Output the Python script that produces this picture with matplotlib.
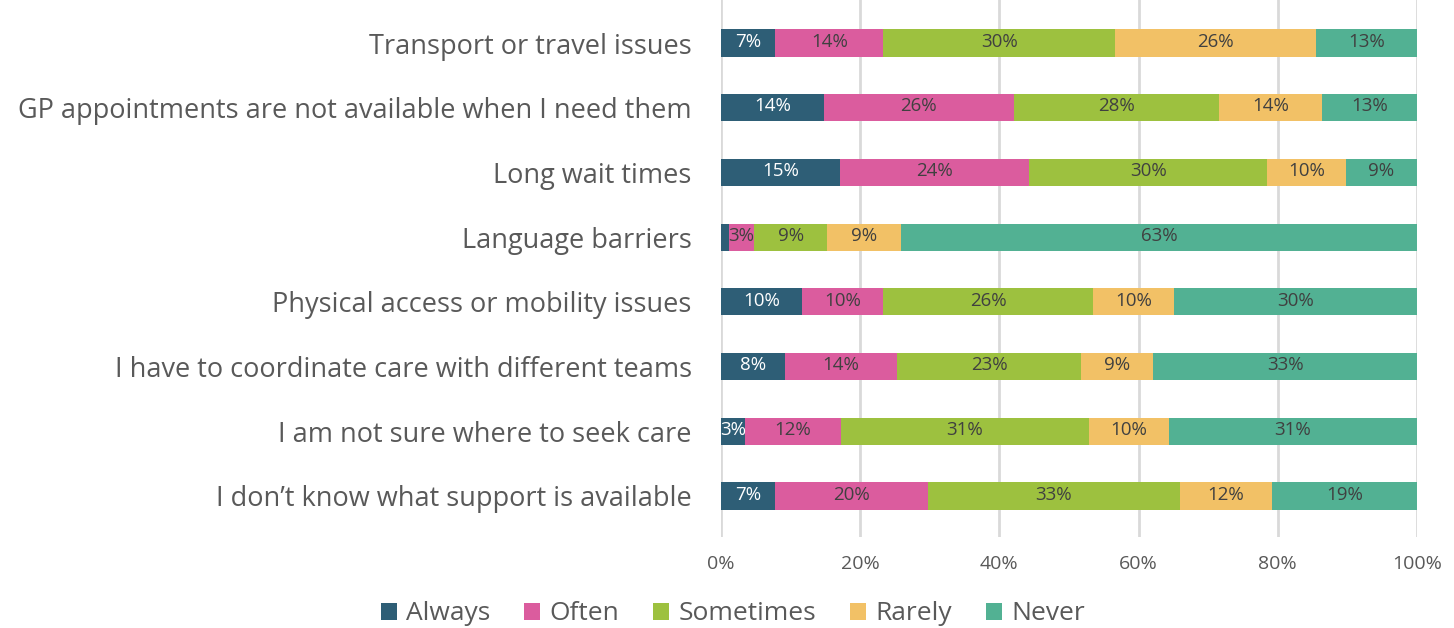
import matplotlib.pyplot as plt
import numpy as np

categories = [
    "Transport or travel issues",
    "GP appointments are not available when I need them",
    "Long wait times",
    "Language barriers",
    "Physical access or mobility issues",
    "I have to coordinate care with different teams",
    "I am not sure where to seek care",
    "I don\u2019t know what support is available",
]
series_names = ["Always", "Often", "Sometimes", "Rarely", "Never"]
always = [7, 14, 15, 1, 10, 8, 3, 7]
often = [14, 26, 24, 3, 10, 14, 12, 20]
sometimes = [30, 28, 30, 9, 26, 23, 31, 33]
rarely = [26, 14, 10, 9, 10, 9, 10, 12]
never = [13, 13, 9, 63, 30, 33, 31, 19]
x_ticks = [0, 20, 40, 60, 80, 100]

colors = ["#2E5E76", "#DB5C9E", "#9DC13F", "#F2C166", "#52B193"]
text_colors = ["white", "#404040", "#404040", "#404040", "#404040"]

plt.rcParams['font.family'] = ['Open Sans', 'DejaVu Sans']

fig = plt.figure(figsize=(14.54, 6.28), dpi=100)
ax = fig.add_axes([721 / 1454, 1 - 537 / 628, 696 / 1454, 537 / 628])

data = np.array([always, often, sometimes, rarely, never], dtype=float)
totals = data.sum(axis=0)
shares = data / totals * 100
y = np.arange(len(categories))

left = np.zeros(len(categories))
for i, name in enumerate(series_names):
    bars = ax.barh(y, shares[i], left=left, height=0.42, color=colors[i],
                   label=name, zorder=3)
    for j, b in enumerate(bars):
        v = data[i, j]
        if v < 2:
            continue
        ax.text(left[j] + shares[i, j] / 2, y[j] - 0.02, f"{int(v)}%",
                ha="center", va="center", fontsize=13.5,
                color=text_colors[i], zorder=4)
    left += shares[i]

ax.set_ylim(7.634, -0.665)
ax.set_xlim(0, 100)
ax.set_yticks(y)
ax.set_yticklabels(categories, fontsize=19.5, color="#595959")
ax.set_xticks(x_ticks)
ax.set_xticklabels([f"{t}%" for t in x_ticks], fontsize=14, color="#595959")
ax.tick_params(axis="y", length=0, pad=21)
ax.tick_params(axis="x", length=0, pad=13)
for s in ax.spines.values():
    s.set_visible(False)
ax.xaxis.grid(True, color="#D9D9D9", linewidth=2, zorder=0)
ax.set_axisbelow(True)

fig.legend(loc="center", bbox_to_anchor=(733 / 1454, 1 - 614 / 628), ncol=5,
           frameon=False, fontsize=19, handlelength=0.6, handleheight=0.6,
           handletextpad=0.35, columnspacing=1.3, labelcolor="#595959")

fig.savefig("out.png", dpi=100)
